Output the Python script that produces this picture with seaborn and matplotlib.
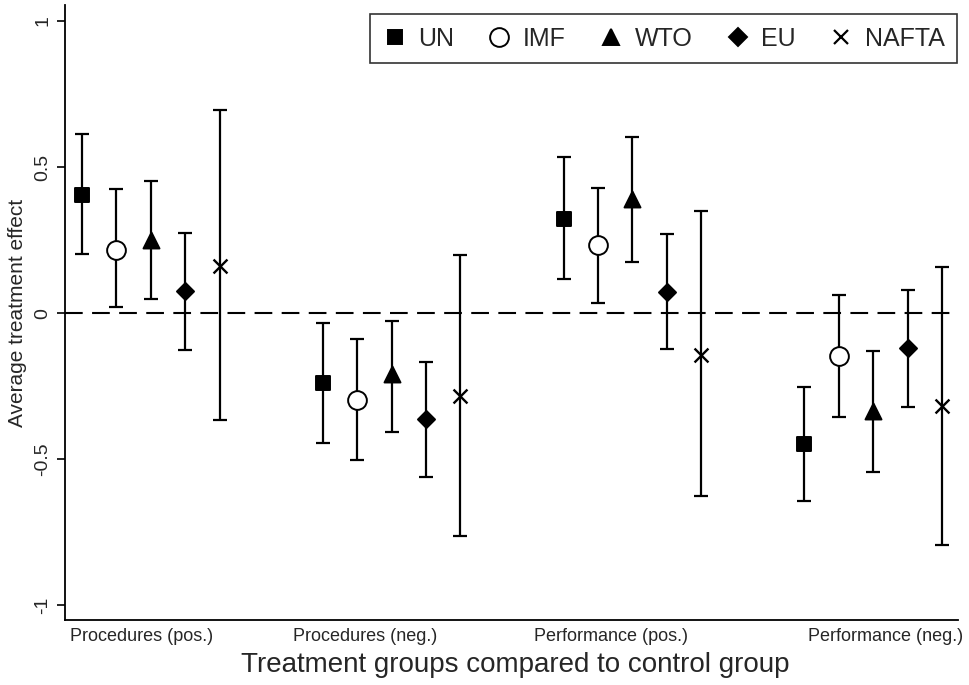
import matplotlib
matplotlib.use('Agg')
import matplotlib.pyplot as plt
from matplotlib.lines import Line2D
import pandas as pd
import seaborn as sns

orgs = ['UN', 'IMF', 'WTO', 'EU', 'NAFTA']
groups = ['Procedures (pos.)', 'Procedures (neg.)', 'Performance (pos.)', 'Performance (neg.)']

# point estimates per organisation, one value per treatment group
est_un = [0.405, -0.241, 0.323, -0.448]
est_imf = [0.216, -0.296, 0.232, -0.148]
est_wto = [0.250, -0.207, 0.390, -0.337]
est_eu = [0.074, -0.364, 0.073, -0.120]
est_nafta = [0.162, -0.283, -0.143, -0.318]

# confidence interval bounds
lo_un = [0.201, -0.446, 0.116, -0.643]
lo_imf = [0.020, -0.503, 0.033, -0.355]
lo_wto = [0.048, -0.406, 0.174, -0.543]
lo_eu = [-0.127, -0.563, -0.124, -0.321]
lo_nafta = [-0.366, -0.764, -0.628, -0.793]

hi_un = [0.613, -0.035, 0.533, -0.253]
hi_imf = [0.424, -0.089, 0.430, 0.063]
hi_wto = [0.453, -0.026, 0.604, -0.131]
hi_eu = [0.275, -0.167, 0.272, 0.080]
hi_nafta = [0.695, 0.200, 0.348, 0.159]

est = [est_un, est_imf, est_wto, est_eu, est_nafta]
lo = [lo_un, lo_imf, lo_wto, lo_eu, lo_nafta]
hi = [hi_un, hi_imf, hi_wto, hi_eu, hi_nafta]

rows = []
for k, org in enumerate(orgs):
    for g, grp in enumerate(groups):
        rows.append({'org': org, 'group': grp, 'x': 7 * g + k,
                     'est': est[k][g], 'lo': lo[k][g], 'hi': hi[k][g]})
df = pd.DataFrame(rows)

sns.set_theme(style='white')
plt.rcParams['font.family'] = ['Liberation Sans', 'DejaVu Sans']

fig = plt.figure(figsize=(9.69, 6.85), dpi=100)
ax = fig.add_axes([65 / 969, 65 / 685, 893 / 969, 615 / 685])

# marker, marker size (pt), face colour
styles = {
    'UN': ('s', 9.4, 'black'),
    'IMF': ('o', 13.5, 'white'),
    'WTO': ('^', 11.5, 'black'),
    'EU': ('D', 8.7, 'black'),
    'NAFTA': ('x', 10.0, 'black'),
}

ax.axhline(0, color='black', lw=1.5, ls=(0, (8.5, 4.5)), zorder=1)

for org in orgs:
    sub = df[df['org'] == org]
    ax.errorbar(sub['x'], sub['est'],
                yerr=[sub['est'] - sub['lo'], sub['hi'] - sub['est']],
                fmt='none', ecolor='black', elinewidth=1.6, capsize=4.8,
                capthick=1.6, zorder=2)
    m, ms, fc = styles[org]
    if m == 'x':
        sns.scatterplot(data=sub, x='x', y='est', marker='x', s=ms ** 2,
                        color='black', linewidth=1.7, ax=ax, zorder=3)
    else:
        sns.scatterplot(data=sub, x='x', y='est', marker=m, s=ms ** 2,
                        facecolor=fc, edgecolor='black', linewidth=1.4,
                        ax=ax, zorder=3)

ax.set_xlim(-0.494, 25.465)
ax.set_ylim(-1.051, 1.055)

ax.set_xticks([1.72, 8.23, 15.38, 23.37])
ax.set_xticklabels(groups, fontsize=13)
ax.tick_params(axis='x', length=0, pad=6)

ax.set_yticks([-1, -0.5, 0, 0.5, 1])
ax.set_yticklabels(['-1', '-0.5', '0', '0.5', '1'], fontsize=14,
                   rotation=90, va='center')
ax.tick_params(axis='y', length=6, width=1.2, color='black', pad=4,
               left=True, direction='out')

ax.set_xlabel('Treatment groups compared to control group', fontsize=20)
ax.set_ylabel('Average treatment effect', fontsize=15)
ax.xaxis.set_label_coords(0.504, -0.052)
ax.yaxis.set_label_coords(-0.043, 0.5)

sns.despine(ax=ax)
for side in ['left', 'bottom']:
    ax.spines[side].set_color('black')
    ax.spines[side].set_linewidth(1.3)

handles = []
for org in orgs:
    m, ms, fc = styles[org]
    if m == 'x':
        handles.append(Line2D([], [], ls='none', marker='x', ms=ms * 0.95,
                              color='black', mew=1.6))
    else:
        handles.append(Line2D([], [], ls='none', marker=m, ms=ms,
                              mfc=fc, mec='black', mew=1.4))
leg = ax.legend(handles, orgs, loc='upper right', bbox_to_anchor=(0.999, 0.985),
                ncol=5, fontsize=18, frameon=True, fancybox=False,
                handlelength=1.0, handletextpad=0.45, columnspacing=1.3,
                borderpad=0.5, borderaxespad=0)
leg.get_frame().set_edgecolor('black')
leg.get_frame().set_linewidth(1.2)

fig.savefig('out.png', dpi=100)
